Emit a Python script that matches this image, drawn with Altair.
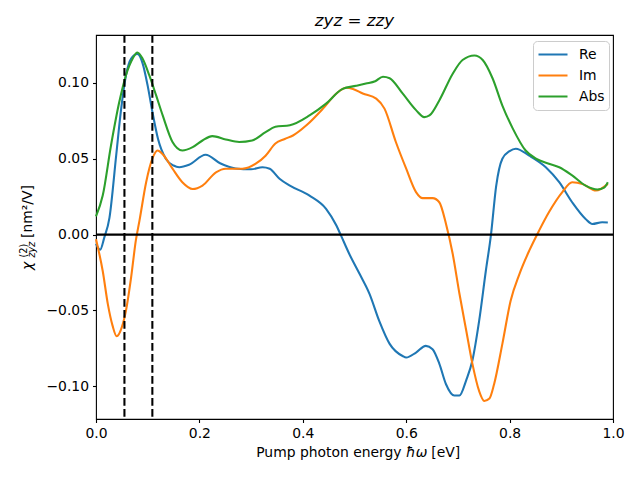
import altair as alt
import pandas as pd

# ---------------- data ----------------
series_names = ["Re", "Im", "Abs"]
series_colors = ["#1f77b4", "#ff7f0e", "#2ca02c"]

re_x = [0.0, 0.008, 0.016, 0.026, 0.039, 0.048, 0.058, 0.068, 0.08, 0.09, 0.10, 0.109, 0.12, 0.135, 0.15,
        0.161, 0.18, 0.212, 0.24, 0.27, 0.30, 0.322, 0.336, 0.355, 0.375, 0.413, 0.445, 0.465, 0.474, 0.49,
        0.51, 0.529, 0.548, 0.568, 0.593, 0.60, 0.619, 0.638, 0.651, 0.664, 0.677, 0.693, 0.703, 0.716, 0.728,
        0.741, 0.754, 0.764, 0.774, 0.786, 0.80, 0.812, 0.838, 0.87, 0.896, 0.921, 0.947, 0.96, 0.979, 0.99]
re_y = [-0.006, -0.010, -0.002, 0.011, 0.052, 0.081, 0.105, 0.116, 0.119, 0.113, 0.098, 0.081, 0.063, 0.050, 0.0455,
        0.0444, 0.046, 0.0526, 0.047, 0.0436, 0.043, 0.0444, 0.0434, 0.0368, 0.0323, 0.0257, 0.017, 0.006, -0.0007, -0.0128,
        -0.026, -0.039, -0.057, -0.072, -0.080, -0.081, -0.0777, -0.0733, -0.0755, -0.085, -0.0986, -0.106, -0.106, -0.096, -0.083,
        -0.057, -0.024, 0.0, 0.032, 0.050, 0.055, 0.0566, 0.052, 0.0444, 0.0345, 0.0213, 0.0103, 0.007, 0.0081, 0.008]

im_x = [0.0, 0.013, 0.023, 0.032, 0.040, 0.050, 0.058, 0.068, 0.077, 0.084, 0.097, 0.109, 0.119, 0.129, 0.148,
        0.167, 0.187, 0.206, 0.232, 0.251, 0.283, 0.309, 0.328, 0.347, 0.365, 0.381, 0.407, 0.439, 0.465, 0.484,
        0.497, 0.516, 0.542, 0.558, 0.580, 0.600, 0.619, 0.632, 0.651, 0.664, 0.677, 0.690, 0.703, 0.716, 0.728,
        0.741, 0.751, 0.761, 0.770, 0.786, 0.802, 0.819, 0.838, 0.857, 0.876, 0.902, 0.921, 0.941, 0.967, 0.99]
im_y = [-0.003, -0.024, -0.046, -0.060, -0.067, -0.061, -0.050, -0.028, -0.004, 0.009, 0.0345, 0.050, 0.0554, 0.053, 0.0434,
        0.0345, 0.030, 0.0323, 0.041, 0.0434, 0.0434, 0.0467, 0.052, 0.060, 0.063, 0.0653, 0.072, 0.083, 0.093, 0.0968,
        0.096, 0.093, 0.0896, 0.083, 0.061, 0.0434, 0.028, 0.024, 0.024, 0.0213, 0.007, -0.0128, -0.039, -0.063, -0.085,
        -0.103, -0.1096, -0.108, -0.0986, -0.072, -0.0436, -0.026, -0.0106, 0.0026, 0.0147, 0.028, 0.0345, 0.0334, 0.029, 0.0334]

abs_x = [0.0, 0.013, 0.029, 0.045, 0.058, 0.071, 0.080, 0.090, 0.103, 0.116, 0.129, 0.148, 0.167, 0.187, 0.206,
         0.225, 0.251, 0.277, 0.302, 0.328, 0.347, 0.375, 0.413, 0.445, 0.477, 0.503, 0.522, 0.540, 0.555, 0.568,
         0.593, 0.619, 0.635, 0.645, 0.664, 0.690, 0.709, 0.732, 0.748, 0.767, 0.786, 0.806, 0.831, 0.851, 0.876,
         0.896, 0.921, 0.947, 0.970, 0.983, 0.99]
abs_y = [0.012, 0.0257, 0.0587, 0.0873, 0.105, 0.116, 0.120, 0.116, 0.105, 0.092, 0.0785, 0.061, 0.0554, 0.0576, 0.062,
         0.0649, 0.0627, 0.061, 0.062, 0.0675, 0.071, 0.072, 0.0785, 0.0863, 0.096, 0.098, 0.0995, 0.101, 0.104, 0.103,
         0.093, 0.082, 0.0774, 0.0785, 0.0884, 0.106, 0.115, 0.118, 0.115, 0.103, 0.085, 0.070, 0.0554, 0.050, 0.0467,
         0.0444, 0.039, 0.0323, 0.0297, 0.031, 0.0345]

vline_x = [0.055, 0.109]
hline_y = [0.0]

x_ticks = [0.0, 0.2, 0.4, 0.6, 0.8, 1.0]
y_ticks = [-0.10, -0.05, 0.0, 0.05, 0.10]

# ---------------- build table ----------------
rows = []
for name, xs, ys in [("Re", re_x, re_y), ("Im", im_x, im_y), ("Abs", abs_x, abs_y)]:
    for i, (xv, yv) in enumerate(zip(xs, ys)):
        rows.append({"x": xv, "y": yv, "series": name, "i": i})
df = pd.DataFrame(rows)

FONT = "DejaVu Sans"
FS = 13.9
W, H = 517, 384

xscale = alt.Scale(domain=[0, 1], nice=False, zero=False)
yscale = alt.Scale(domain=[-0.1215, 0.1315], nice=False, zero=False)

xaxis = alt.Axis(values=x_ticks, format=".1f", title=None, grid=False, domain=False,
                 tickSize=3.5, tickWidth=1.1, tickColor="black", labelFontSize=FS,
                 labelFont=FONT, labelColor="black", labelPadding=4, labelFlush=False)
yaxis = alt.Axis(values=y_ticks, format=".2f", title=None, grid=False, domain=False,
                 tickSize=3.5, tickWidth=1.1, tickColor="black", labelFontSize=FS,
                 labelFont=FONT, labelColor="black", labelPadding=4, labelFlush=False)

lines = alt.Chart(df).mark_line(strokeWidth=2.08, interpolate="monotone").encode(
    x=alt.X("x:Q", scale=xscale, axis=xaxis),
    y=alt.Y("y:Q", scale=yscale, axis=yaxis),
    order="i:Q",
    color=alt.Color("series:N",
                    scale=alt.Scale(domain=series_names, range=series_colors),
                    sort=series_names,
                    legend=alt.Legend(title=None, orient="none", legendX=437, legendY=6,
                                      symbolType="stroke", symbolSize=841, symbolStrokeWidth=2.08,
                                      clipHeight=19, rowPadding=2, padding=4,
                                      labelFontSize=FS, labelFont=FONT, labelColor="black",
                                      labelOffset=10, strokeColor="#cccccc", fillColor="white",
                                      cornerRadius=4)),
)

hline = alt.Chart(pd.DataFrame({"y": hline_y})).mark_rule(color="black", strokeWidth=2.08).encode(
    y=alt.Y("y:Q", scale=yscale))
vlines = alt.Chart(pd.DataFrame({"x": vline_x})).mark_rule(
    color="black", strokeWidth=2.08, strokeDash=[7.7, 3.3]).encode(x=alt.X("x:Q", scale=xscale))


def txt(s, x, y, size=FS, angle=0, align="left", style="normal", baseline="alphabetic"):
    return alt.Chart(pd.DataFrame({"t": [s]})).mark_text(
        font=FONT, fontSize=size, fontStyle=style, angle=angle, align=align,
        baseline=baseline, color="black").encode(
        x=alt.value(x), y=alt.value(y), text="t:N")


# title
title = txt("zyz = zzy", W / 2, -9.5, size=16.7, align="center", style="italic")

# x-axis title: "Pump photon energy ħω [eV]"
xt1 = txt("Pump photon energy", 305.6, 422, align="right")
xt2 = txt("ħω", 310, 422, style="italic")
xt3 = txt("[eV]", 335.3, 422)

# y-axis title: χ^(2)_zyz [nm²/V]
yt1 = txt("χ", -64.4, 235, angle=270, style="italic")
yt2 = txt("(2)", -69.4, 222.5, size=9.7, angle=270)
yt3 = txt("zyz", -61.5, 222.5, size=9.7, angle=270, style="italic")
yt4 = txt("[nm²/V]", -64.4, 203, angle=270)

chart = alt.layer(lines, hline, vlines, title, xt1, xt2, xt3, yt1, yt2, yt3, yt4).properties(
    width=W, height=H,
    autosize=alt.AutoSizeParams(type="none"),
    padding={"left": 88, "top": 27, "right": 19, "bottom": 53},
    background="white",
).configure_view(stroke="black", strokeWidth=1.1)

chart.save("out.html", embed_options={"renderer": "svg", "actions": False})
